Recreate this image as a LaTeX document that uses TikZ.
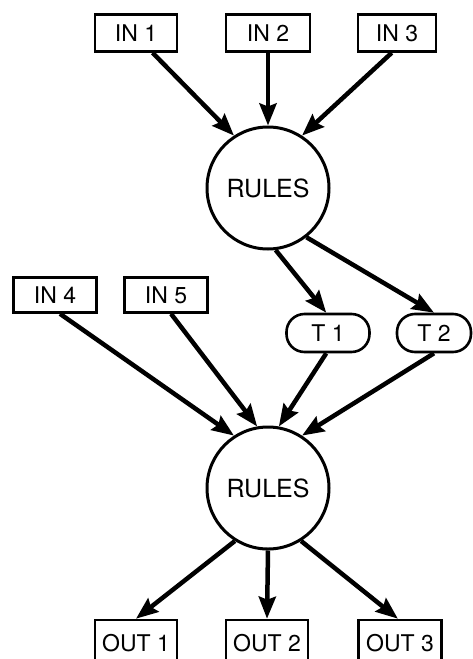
\documentclass[tikz,border=0pt]{standalone}
\usepackage{fontspec}
\setmainfont{TeX Gyre Heros}
\usetikzlibrary{arrows.meta}
\begin{document}
\begin{tikzpicture}[x=1pt,y=-1pt,
  box/.style={draw,line width=2.6pt,minimum width=82pt,minimum height=37pt,inner sep=0pt,font=\fontsize{23}{27}\selectfont},
  tbox/.style={box,rounded corners=18pt,minimum height=38pt},
  outbox/.style={box,minimum height=46pt},
  rules/.style={draw,circle,line width=3pt,minimum size=122pt,inner sep=0pt,font=\fontsize{25}{29}\selectfont},
  link/.style={line width=4.5pt,-{Stealth[length=22pt,width=17pt,inset=3pt]}},
]
\useasboundingbox (0,0) rectangle (473,659);
\clip (0,0) rectangle (473,659);

\node[box] (in1) at (136,33) {IN 1};
\node[box,minimum width=84pt] (in2) at (268,33) {IN 2};
\node[box,minimum width=78pt] (in3) at (397,33) {IN 3};

\node[rules] (r1) at (268,188) {RULES};

\node[box,minimum width=83pt,minimum height=35pt] (in4) at (55,295) {IN 4};
\node[box,minimum width=83pt,minimum height=35pt] (in5) at (166,295) {IN 5};
\node[tbox,minimum width=83pt] (t1) at (328,333) {T 1};
\node[tbox,minimum width=74pt] (t2) at (434,333) {T 2};

\node[rules] (r2) at (268,488) {RULES};

\node[outbox] (out1) at (136,643) {OUT 1};
\node[outbox] (out2) at (267,643) {OUT 2};
\node[outbox,minimum width=83pt] (out3) at (400,643) {OUT 3};

\draw[link] (in1.-50) -- (r1.123);
\draw[link] (in2.south) -- (r1.north);
\draw[link] (in3.-105) -- (r1.57);

\draw[link] (r1.-83) -- (t1.95);
\draw[link] (r1.-52) -- (t2.north);

\draw[link] (in4.-75) -- (r2.123);
\draw[link] (in5.-75) -- (r2.100);
\draw[link] (t1.-95) -- (r2.80);
\draw[link] (t2.south) -- (r2.57);

\draw[link] (r2.-122) -- (out1.north);
\draw[link] (r2.south) -- (out2.north);
\draw[link] (r2.-58) -- (out3.95);
\end{tikzpicture}
\end{document}
